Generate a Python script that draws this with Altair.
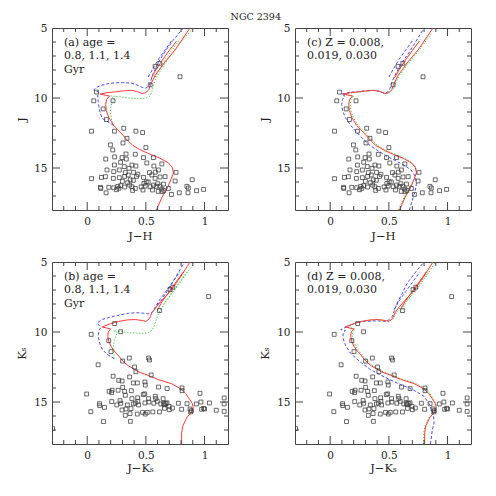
import altair as alt
import pandas as pd

# ---------------- stars: J vs J-H (panels a, c) ----------------
JH_COLOR = [0.791, 0.579, 0.619, 0.537,
            0.056, 0.079, 0.136, 0.220, 0.164,
            0.037, 0.232, 0.311, 0.415, 0.472, 0.339, 0.305, 0.198, 0.218, 0.500, 0.331, 0.410,
            0.158, 0.234, 0.297, 0.333, 0.480, 0.565, 0.232, 0.285, 0.316, 0.381, 0.415, 0.508,
            0.568, 0.636, 0.169, 0.226, 0.274, 0.325, 0.356, 0.395, 0.432, 0.531, 0.551, 0.607,
            0.757, 0.037, 0.121, 0.155, 0.223, 0.274, 0.319, 0.350, 0.367, 0.393, 0.480, 0.503,
            0.579, 0.621, 0.664, 0.749, 0.895, 0.113, 0.116, 0.184, 0.226, 0.260, 0.285, 0.319,
            0.362, 0.381, 0.410, 0.483, 0.494, 0.537, 0.565, 0.588, 0.602, 0.650, 0.692, 0.850,
            0.862, 0.932, 0.992, 0.636, 0.556, 0.475, 0.387, 0.161, 0.605, 0.638, 0.785, 0.859,
            0.718, 0.300, 0.345, 0.420, 0.460, 0.520, 0.620, 0.653, 0.250, 0.270, 0.580]
J_MAG = [8.48, 7.74, 7.52, 9.06,
         10.20, 9.58, 10.78, 10.20, 11.54,
         12.37, 12.37, 12.16, 12.37, 12.47, 12.88, 13.21, 13.35, 13.71, 13.54, 14.00, 14.02,
         14.36, 14.21, 14.26, 14.36, 14.26, 14.26, 14.79, 14.59, 14.90, 14.79, 14.86, 14.64,
         14.86, 14.71, 15.14, 15.26, 15.14, 15.33, 15.02, 15.31, 15.45, 15.33, 15.50, 15.14,
         15.31, 15.76, 15.67, 15.62, 15.74, 15.69, 15.60, 15.50, 15.84, 15.88, 15.67, 15.98,
         15.74, 15.64, 15.62, 15.93, 15.84, 16.38, 16.46, 16.38, 16.41, 16.31, 16.26, 16.36,
         16.22, 16.34, 16.46, 16.10, 16.29, 16.34, 16.22, 16.31, 16.12, 16.15, 16.46, 16.31,
         16.43, 16.62, 16.53, 16.50, 16.57, 16.57, 16.60, 16.77, 16.67, 16.69, 16.77, 16.77,
         16.89, 15.95, 16.05, 15.60, 16.35, 16.00, 16.30, 16.60, 16.55, 16.45, 15.30]

# ---------------- stars: Ks vs J-Ks (panels b, d) ----------------
JK_COLOR = [1.035, 0.706, 0.730, 0.616,
            0.034, 0.234, 0.285, 0.184, 0.203,
            0.359, 0.523, 0.531, 0.093, 0.302, 0.404, 0.415,
            0.545, 0.221, 0.362, 0.269, 0.297, 0.393, 0.427, 0.492, 0.495, 0.608, 0.681, 0.808,
            0.808, 0.961, -0.005, 0.187, 0.212, 0.208, 0.263, 0.302, 0.319, 0.376, 0.478, 0.490,
            0.580, 0.585, 0.523, 0.647, 0.381, 0.325, 0.430,
            0.209, 0.280, 0.286, 0.342, 0.393, 0.410, 0.432, 0.438, 0.492, 0.526, 0.568, 0.597,
            0.627, 0.650, 0.660, 0.670, 0.680, 0.698, 0.777, 0.851, 0.930, 0.969, 1.042, 1.167,
            1.167, 1.167, 1.100, 0.992, 1.000, 0.975, 0.876, 0.882, 0.888, 0.805, 0.726, 0.700,
            0.658, 0.616, 0.559, 0.512, 0.495, 0.472, 0.427, 0.373, 0.330, 0.365, 0.325, 0.297,
            0.252, 0.147, 0.105, 0.107, 0.031, 0.139, 0.368, -0.295]
K_MAG = [7.47, 6.97, 6.80, 8.47,
         10.17, 9.40, 9.98, 10.62, 11.40,
         11.86, 11.86, 12.00, 12.34, 12.08, 12.50, 12.84,
         13.07, 13.16, 13.21, 13.45, 13.50, 13.64, 13.64, 13.57, 13.79, 13.93, 14.04, 14.00,
         14.19, 14.38, 14.43, 14.24, 14.16, 14.33, 14.16, 13.95, 14.24, 14.19, 14.47, 14.42,
         14.59, 14.76, 14.76, 14.76, 14.76, 14.52, 14.70,
         14.97, 14.90, 15.09, 15.21, 15.14, 15.08, 14.95, 15.21, 15.07, 15.00, 15.09, 14.95,
         15.14, 15.12, 15.20, 15.10, 15.06, 15.31, 15.09, 15.12, 15.14, 15.00, 15.07, 14.71,
         15.14, 15.67, 15.59, 15.45, 15.50, 15.52, 15.50, 15.71, 15.62, 15.52, 15.43, 15.55,
         15.45, 15.71, 15.71, 15.74, 15.86, 15.74, 15.86, 15.47, 15.50, 15.83, 15.95, 15.57,
         15.21, 15.38, 15.12, 15.26, 15.69, 16.40, 16.38, 16.90]

# ---------------- isochrones, J vs J-H ----------------
A_RED_X = [0.590, 0.636, 0.678, 0.715, 0.735, 0.725, 0.690, 0.620, 0.565, 0.466, 0.390, 0.334,
           0.270, 0.226, 0.185, 0.163, 0.158, 0.166, 0.190, 0.110, 0.170, 0.240, 0.310, 0.380,
           0.430, 0.466, 0.500, 0.525, 0.537, 0.580, 0.664, 0.749, 0.876]
A_RED_Y = [18.0, 17.12, 16.52, 15.80, 15.35, 14.95, 14.62, 14.30, 14.12, 13.76, 13.40, 12.93,
           12.35, 11.96, 11.40, 10.90, 10.45, 10.10, 9.86, 9.72, 9.62, 9.56, 9.49, 9.45,
           9.55, 9.68, 9.62, 9.40, 9.10, 8.37, 7.41, 6.57, 5.00]
A_RED2_X = [0.545, 0.585, 0.640, 0.700, 0.760]
A_RED2_Y = [8.60, 8.00, 7.30, 6.60, 5.95]

A_BLUE_X = [0.226, 0.175, 0.127, 0.105, 0.093, 0.090, 0.100, 0.056, 0.090, 0.150, 0.220, 0.300,
            0.370, 0.420, 0.470, 0.500, 0.530, 0.545, 0.560, 0.610, 0.670, 0.730, 0.820]
A_BLUE_Y = [11.96, 11.70, 11.45, 10.90, 10.25, 9.85, 9.60, 9.42, 9.20, 9.02, 8.93, 8.90,
            8.93, 9.05, 9.25, 9.30, 9.10, 8.70, 8.30, 7.40, 6.60, 5.90, 5.00]
A_BLUE2_X = [0.520, 0.560, 0.610, 0.670, 0.730]
A_BLUE2_Y = [8.50, 7.90, 7.20, 6.50, 5.80]

A_GREEN_X = [0.226, 0.205, 0.198, 0.200, 0.215, 0.235, 0.200, 0.260, 0.320, 0.400, 0.450, 0.500,
             0.530, 0.550, 0.560, 0.580, 0.607, 0.650, 0.692, 0.760, 0.830, 0.904]
A_GREEN_Y = [11.96, 11.50, 11.00, 10.60, 10.30, 10.08, 9.85, 9.90, 9.97, 10.03, 10.05, 10.00,
             9.90, 9.60, 9.20, 8.70, 8.30, 7.70, 7.20, 6.40, 5.70, 5.00]
A_GREEN2_X = [0.580, 0.620, 0.670, 0.730, 0.790]
A_GREEN2_Y = [8.50, 7.90, 7.20, 6.50, 5.80]

C_BLUE_X = [0.675, 0.700, 0.725, 0.735, 0.725, 0.690, 0.630, 0.550, 0.470, 0.405, 0.340, 0.280,
            0.215, 0.170, 0.130, 0.105, 0.098, 0.105, 0.125, 0.095, 0.170, 0.240, 0.310, 0.380,
            0.430, 0.466, 0.495, 0.510, 0.525, 0.545, 0.600, 0.660, 0.720, 0.800]
C_BLUE_Y = [18.0, 17.3, 16.6, 16.1, 15.6, 15.15, 14.80, 14.45, 14.10, 13.75, 13.40, 12.93,
            12.35, 11.90, 11.40, 10.90, 10.45, 10.10, 9.85, 9.72, 9.60, 9.54, 9.48, 9.45,
            9.55, 9.66, 9.55, 9.30, 8.90, 8.50, 7.60, 6.90, 6.10, 5.00]
C_BLUE2_X = [0.500, 0.540, 0.590, 0.650, 0.710]
C_BLUE2_Y = [8.50, 7.90, 7.20, 6.50, 5.80]

C_GREEN_X = [0.580, 0.628, 0.672, 0.712, 0.738, 0.730, 0.698, 0.630, 0.578, 0.480, 0.404, 0.348,
             0.284, 0.240, 0.198, 0.176, 0.171, 0.178, 0.200, 0.120, 0.175, 0.245, 0.312, 0.382,
             0.432, 0.468, 0.505, 0.535, 0.548, 0.592, 0.678, 0.760, 0.870]
C_GREEN_Y = [18.0, 17.12, 16.52, 15.80, 15.35, 14.95, 14.62, 14.30, 14.12, 13.76, 13.40, 12.93,
             12.35, 11.96, 11.40, 10.90, 10.45, 10.10, 9.86, 9.74, 9.63, 9.57, 9.50, 9.46,
             9.56, 9.69, 9.62, 9.40, 9.10, 8.37, 7.41, 6.57, 5.30]
C_GREEN2_X = [0.555, 0.595, 0.650, 0.710, 0.770]
C_GREEN2_Y = [8.50, 7.90, 7.20, 6.50, 5.80]

# ---------------- isochrones, Ks vs J-Ks ----------------
B_RED_X = [0.805, 0.805, 0.815, 0.850, 0.890, 0.904, 0.895, 0.873, 0.840, 0.805, 0.720, 0.607,
           0.520, 0.438, 0.400, 0.353, 0.311, 0.268, 0.230, 0.205, 0.185, 0.175, 0.180, 0.200,
           0.127, 0.200, 0.269, 0.340, 0.410, 0.470, 0.500, 0.530, 0.551, 0.593, 0.664, 0.720,
           0.800, 0.876]
B_RED_Y = [18.0, 17.2, 16.7, 16.1, 15.7, 15.4, 15.1, 14.81, 14.4, 14.1, 13.7, 13.4,
           13.1, 12.85, 12.65, 12.43, 12.14, 11.71, 11.35, 11.05, 10.7, 10.3, 10.0, 9.78,
           9.64, 9.40, 9.24, 9.14, 9.11, 9.18, 9.24, 9.05, 8.64, 8.16, 7.50, 6.97,
           6.00, 5.00]
B_RED2_X = [0.600, 0.640, 0.700, 0.760, 0.820]
B_RED2_Y = [8.40, 7.80, 7.10, 6.40, 5.70]

B_BLUE_X = [0.230, 0.170, 0.135, 0.113, 0.100, 0.095, 0.100, 0.115, 0.085, 0.130, 0.190, 0.260,
            0.353, 0.420, 0.480, 0.520, 0.550, 0.565, 0.580, 0.636, 0.700, 0.830]
B_BLUE_Y = [11.9, 11.6, 11.3, 11.0, 10.6, 10.2, 9.9, 9.7, 9.35, 9.10, 8.95, 8.82,
            8.66, 8.62, 8.66, 8.70, 8.60, 8.45, 8.25, 7.69, 6.85, 5.00]
B_BLUE2_X = [0.570, 0.610, 0.670, 0.730, 0.790]
B_BLUE2_Y = [8.40, 7.80, 7.10, 6.40, 5.70]

B_GREEN_X = [0.230, 0.226, 0.225, 0.232, 0.245, 0.260, 0.225, 0.290, 0.353, 0.420, 0.480, 0.523,
             0.555, 0.575, 0.593, 0.622, 0.680, 0.749, 0.830, 0.918]
B_GREEN_Y = [11.9, 11.4, 10.9, 10.55, 10.25, 10.05, 9.92, 9.98, 10.05, 10.08, 10.10, 10.05,
             9.85, 9.50, 9.00, 8.40, 7.70, 6.97, 6.00, 5.00]
B_GREEN2_X = [0.630, 0.670, 0.730, 0.790, 0.850]
B_GREEN2_Y = [8.40, 7.80, 7.10, 6.40, 5.70]

D_BLUE_X = [0.855, 0.870, 0.886, 0.880, 0.871, 0.840, 0.800, 0.700, 0.600, 0.470, 0.343, 0.250,
            0.171, 0.130, 0.109, 0.110, 0.130, 0.090, 0.150, 0.220, 0.286, 0.400, 0.486, 0.529,
            0.550, 0.571, 0.610, 0.657, 0.720, 0.800]
D_BLUE_Y = [18.0, 17.0, 16.5, 16.0, 15.66, 15.1, 14.59, 14.1, 13.76, 13.25, 12.69, 12.1,
            11.5, 10.95, 10.43, 10.1, 9.9, 9.83, 9.6, 9.35, 9.24, 9.2, 9.24, 8.88,
            8.4, 7.93, 7.3, 6.5, 5.8, 5.0]
D_BLUE2_X = [0.545, 0.585, 0.645, 0.705, 0.765]
D_BLUE2_Y = [8.40, 7.80, 7.10, 6.40, 5.70]

D_GREEN_X = [0.795, 0.797, 0.808, 0.845, 0.887, 0.905, 0.900, 0.882, 0.850, 0.818, 0.735, 0.622,
             0.535, 0.452, 0.413, 0.366, 0.324, 0.281, 0.244, 0.219, 0.199, 0.189, 0.193, 0.212,
             0.137, 0.207, 0.275, 0.345, 0.415, 0.475, 0.505, 0.538, 0.562, 0.606, 0.680, 0.738,
             0.820, 0.898]
D_GREEN_Y = B_RED_Y
D_GREEN2_X = [0.615, 0.655, 0.715, 0.775, 0.835]
D_GREEN2_Y = [8.40, 7.80, 7.10, 6.40, 5.70]

# ---------------- axes ----------------
X_MINOR = [-0.2, -0.1, 0.1, 0.2, 0.3, 0.4, 0.6, 0.7, 0.8, 0.9, 1.1]
X_MAJOR = [0, 0.5, 1]
Y_MINOR = [6, 7, 8, 9, 11, 12, 13, 14, 16, 17]
Y_MAJOR = [10, 15]
Y_LABELS = [5, 10, 15]

W, H = 176, 182
FONT = "DejaVu Serif"
INK = "#222222"
FRAME = "#444444"
BLUE, RED, GREEN = "#4848ff", "#ff3a3a", "#33cc33"

xscale = alt.Scale(domain=[-0.3, 1.2], nice=False, zero=False)
yscale = alt.Scale(domain=[5, 18], nice=False, zero=False, reverse=True)


def curve(xs, ys, color, dash):
    df = pd.DataFrame({"x": xs, "y": ys, "i": list(range(len(xs)))})
    kw = dict(color=color, strokeWidth=1, clip=True)
    if dash:
        kw["strokeDash"] = dash
    return alt.Chart(df).mark_line(**kw), df


def panel(sx, sy, curves, label, xtitle, ytitle, xtpad):
    xax = alt.Axis(values=X_MAJOR, format="~g", ticks=False, domain=False, grid=False,
                   labelFont=FONT, labelFontSize=10.5, labelPadding=6, labelColor=INK,
                   title=xtitle, titleFont=FONT, titleFontSize=11.5, titleFontWeight="normal",
                   titleColor=INK, titlePadding=xtpad, minExtent=18, maxExtent=18)
    yax = alt.Axis(values=Y_LABELS, format="~g", ticks=False, domain=False, grid=False,
                   labelFont=FONT, labelFontSize=10.5, labelPadding=5, labelColor=INK,
                   title=ytitle, titleFont=FONT, titleFontSize=11.5, titleFontWeight="normal",
                   titleColor=INK, titlePadding=8, minExtent=17, maxExtent=17)
    X = alt.X("x:Q", scale=xscale, axis=xax)
    Y = alt.Y("y:Q", scale=yscale, axis=yax)
    layers = []
    for xs, ys, color, dash in curves:
        mk, _ = curve(xs, ys, color, dash)
        layers.append(mk.encode(x=X, y=Y, order="i:Q"))
    stars = pd.DataFrame({"x": sx, "y": sy})
    layers.append(alt.Chart(stars).mark_point(shape="square", filled=False, size=15,
                                               strokeWidth=0.75, color="#3a3a3a", opacity=1,
                                               clip=True).encode(x=X, y=Y))
    for vals, L in ((X_MINOR, 4), (X_MAJOR, 8)):
        df = pd.DataFrame({"x": vals})
        layers.append(alt.Chart(df).mark_rule(color=FRAME, strokeWidth=1).encode(
            x=X, y=alt.value(H), y2=alt.value(H - L)))
        layers.append(alt.Chart(df).mark_rule(color=FRAME, strokeWidth=1).encode(
            x=X, y=alt.value(0), y2=alt.value(L)))
    for vals, L in ((Y_MINOR, 4), (Y_MAJOR, 8)):
        df = pd.DataFrame({"y": vals})
        layers.append(alt.Chart(df).mark_rule(color=FRAME, strokeWidth=1).encode(
            y=Y, x=alt.value(0), x2=alt.value(L)))
        layers.append(alt.Chart(df).mark_rule(color=FRAME, strokeWidth=1).encode(
            y=Y, x=alt.value(W), x2=alt.value(W - L)))
    layers.append(alt.Chart(pd.DataFrame({"t": [label]})).mark_text(
        align="left", baseline="alphabetic", font=FONT, fontSize=11, lineBreak="\n",
        lineHeight=13.3, color=INK).encode(x=alt.value(12), y=alt.value(18), text="t:N"))
    return alt.layer(*layers).properties(width=W, height=H)


BD = [3, 2]
GD = [1.2, 1.8]

pa = panel(JH_COLOR, J_MAG, [
    (A_BLUE_X, A_BLUE_Y, BLUE, BD), (A_BLUE2_X, A_BLUE2_Y, BLUE, BD),
    (A_GREEN_X, A_GREEN_Y, GREEN, GD), (A_GREEN2_X, A_GREEN2_Y, GREEN, GD),
    (A_RED_X, A_RED_Y, RED, None), (A_RED2_X, A_RED2_Y, RED, None)],
    "(a) age =\n0.8, 1.1, 1.4\nGyr", "J\u2212H", "J", 2)
pc = panel(JH_COLOR, J_MAG, [
    (C_BLUE_X, C_BLUE_Y, BLUE, BD), (C_BLUE2_X, C_BLUE2_Y, BLUE, BD),
    (C_GREEN_X, C_GREEN_Y, GREEN, GD), (C_GREEN2_X, C_GREEN2_Y, GREEN, GD),
    (A_RED_X, A_RED_Y, RED, None), (A_RED2_X, A_RED2_Y, RED, None)],
    "(c) Z = 0.008,\n0.019, 0.030", "J\u2212H", "J", 2)
pb = panel(JK_COLOR, K_MAG, [
    (B_BLUE_X, B_BLUE_Y, BLUE, BD), (B_BLUE2_X, B_BLUE2_Y, BLUE, BD),
    (B_GREEN_X, B_GREEN_Y, GREEN, GD), (B_GREEN2_X, B_GREEN2_Y, GREEN, GD),
    (B_RED_X, B_RED_Y, RED, None), (B_RED2_X, B_RED2_Y, RED, None)],
    "(b) age =\n0.8, 1.1, 1.4\nGyr", "J\u2212K\u209b", "K\u209b", 0)
pd_ = panel(JK_COLOR, K_MAG, [
    (D_BLUE_X, D_BLUE_Y, BLUE, BD), (D_BLUE2_X, D_BLUE2_Y, BLUE, BD),
    (D_GREEN_X, D_GREEN_Y, GREEN, GD), (D_GREEN2_X, D_GREEN2_Y, GREEN, GD),
    (B_RED_X, B_RED_Y, RED, None), (B_RED2_X, B_RED2_Y, RED, None)],
    "(d) Z = 0.008,\n0.019, 0.030", "J\u2212K\u209b", "K\u209b", 0)

top = alt.hconcat(pa, pc, spacing=29)
bot = alt.hconcat(pb, pd_, spacing=29)
chart = alt.vconcat(top, bot, spacing=14).properties(
    title=alt.TitleParams("NGC 2394", font=FONT, fontSize=9.5, fontWeight="normal",
                          anchor="middle", dx=12, offset=1, color=INK),
    padding={"left": 7, "top": 4, "right": 0, "bottom": 0},
).configure_view(stroke=FRAME, strokeWidth=1)

chart.save("out.html", embed_options={"renderer": "svg", "actions": False})
